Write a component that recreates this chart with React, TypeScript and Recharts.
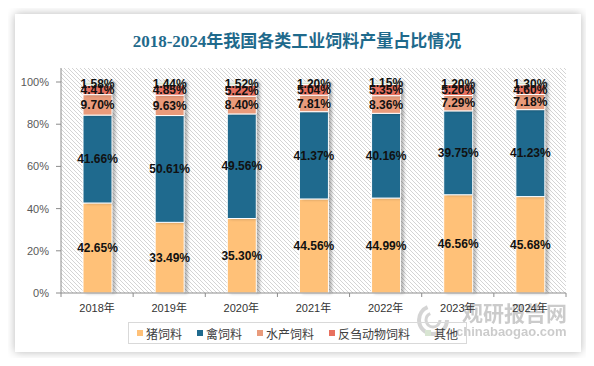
import React from 'react';
import { BarChart, Bar, XAxis, YAxis, CartesianGrid, LabelList } from 'recharts';

const categories = ['2018年', '2019年', '2020年', '2021年', '2022年', '2023年', '2024年'];
const pig = [42.65, 33.49, 35.3, 44.56, 44.99, 46.56, 45.68];
const poultry = [41.66, 50.61, 49.56, 41.37, 40.16, 39.75, 41.23];
const aquatic = [9.7, 9.63, 8.4, 7.81, 8.36, 7.29, 7.18];
const ruminant = [4.41, 4.85, 5.22, 5.04, 5.35, 5.2, 4.6];
const other = [1.58, 1.44, 1.52, 1.2, 1.15, 1.2, 1.3];
const yTicks = [0, 20, 40, 60, 80, 100];

const seriesNames = ['猪饲料', '禽饲料', '水产饲料', '反刍动物饲料', '其他'];
const seriesKeys = ['pig', 'poultry', 'aquatic', 'ruminant', 'other'];
const seriesColors = ['#FFC178', '#1F6A8E', '#E99B7B', '#E8705F', '#D8E5D2'];

const data = categories.map((c, i) => ({
  name: c,
  pig: pig[i],
  poultry: poultry[i],
  aquatic: aquatic[i],
  ruminant: ruminant[i],
  other: other[i],
}));

const W = 594;
const H = 366;
const MARGIN = { top: 68, right: 28, bottom: 43, left: 0 };
const Y_AXIS_W = 61;
const BAND = (W - MARGIN.left - MARGIN.right - Y_AXIS_W) / categories.length;

const XTick = (props: any) => {
  const { x, y, payload, index } = props;
  const half = BAND / 2;
  return (
    <g>
      {index === 0 && <line x1={x - half} x2={x - half} y1={y - 8} y2={y - 4} stroke="#8c8c8c" />}
      <line x1={x + half} x2={x + half} y1={y - 8} y2={y - 4} stroke="#8c8c8c" />
      <text x={x} y={y + 11} textAnchor="middle" fontSize={11} fill="#333" fontFamily="'Liberation Sans','Noto Sans CJK SC',sans-serif">
        {payload.value}
      </text>
    </g>
  );
};

const YTick = (props: any) => {
  const { x, y, payload } = props;
  return (
    <text x={x} y={y + 4} textAnchor="end" fontSize={11} fill="#595959" fontFamily="'Liberation Sans',sans-serif">
      {`${payload.value}%`}
    </text>
  );
};

const fmt = (v: any) => `${Number(v).toFixed(2)}%`;

const LegendBox = () => (
  <div
    style={{
      position: 'absolute',
      left: 128,
      top: 322,
      width: 339,
      border: '1px solid #d9d9d9',
      height: 22,
      boxSizing: 'border-box',
      display: 'flex',
      alignItems: 'center',
      justifyContent: 'center',
      fontFamily: "'Noto Sans CJK SC',sans-serif",
      fontSize: 12,
      color: '#404040',
      gap: 15,
      background: 'transparent',
    }}
  >
    {seriesNames.map((n, i) => (
      <div key={n} style={{ display: 'flex', alignItems: 'center', gap: 3 }}>
        <span style={{ width: 6, height: 6, background: seriesColors[i], display: 'inline-block' }} />
        <span>{n}</span>
      </div>
    ))}
  </div>
);

export default function App() {
  return (
    <div style={{ position: 'relative', width: W, height: H, margin: -8, background: '#fff', overflow: 'hidden' }}>
      <style>{`.recharts-bar-rectangles { filter: drop-shadow(3px 0px 1.5px rgba(0,0,0,0.28)); }`}</style>
      <div
        style={{
          position: 'absolute',
          left: 15,
          top: 14,
          width: 566,
          height: 338,
          background: '#fff',
          boxShadow: '0 0 9px rgba(0,0,0,0.28)',
        }}
      />
      <div
        style={{
          position: 'absolute',
          left: 0,
          top: 30,
          width: W,
          textAlign: 'center',
          fontFamily: "'Liberation Serif','Noto Sans CJK SC',serif",
          fontWeight: 'bold',
          fontSize: 17,
          color: '#1F6A8C',
          lineHeight: '24px',
        }}
      >
        2018-2024年我国各类工业饲料产量占比情况
      </div>
      {/* watermark */}
      <svg style={{ position: 'absolute', left: 0, top: 0 }} width={W} height={H}>
        <g opacity={0.5}>
          <circle cx={433} cy={320} r={14} fill="none" stroke="#aaa" strokeWidth={4} strokeDasharray="60 28" />
          <circle cx={433} cy={320} r={7} fill="none" stroke="#aaa" strokeWidth={3} strokeDasharray="30 14" />
          <text x={462} y={321} fontSize={21} fontWeight="bold" fill="#999" fontFamily="'Noto Sans CJK SC',sans-serif">
            观研报告网
          </text>
          <text x={456} y={336} fontSize={13} fontWeight="bold" fill="#999" fontFamily="'Liberation Sans',sans-serif">
            chinabaogao.com
          </text>
        </g>
      </svg>
      <LegendBox />
      <div style={{ position: 'absolute', left: 0, top: 0 }}>
        <BarChart width={W} height={H} data={data} margin={MARGIN} barSize={29}>
          <defs>
            <pattern id="hatch" patternUnits="userSpaceOnUse" width={4} height={4}>
              <path d="M-1,-1 L5,5 M-1,3 L1,5 M3,-1 L5,1" stroke="#d4d4d4" strokeWidth={1} />
            </pattern>
          </defs>
          <CartesianGrid horizontal={false} vertical={false} fill="url(#hatch)" />
          <XAxis
            dataKey="name"
            tick={<XTick />}
            tickLine={false}
            axisLine={{ stroke: '#8c8c8c' }}
            interval={0}
          />
          <YAxis
            width={Y_AXIS_W}
            domain={[0, 106.64]}
            ticks={yTicks}
            tickSize={5}
            tickMargin={7}
            tickLine={{ stroke: '#8c8c8c' }}
            axisLine={{ stroke: '#8c8c8c' }}
            tick={<YTick />}
          />
          {seriesKeys.map((k, i) => (
            <Bar
              key={k}
              dataKey={k}
              name={seriesNames[i]}
              stackId="a"
              fill={seriesColors[i]}
              stroke="#fff"
              strokeWidth={1}
              isAnimationActive={false}
            >
              <LabelList
                dataKey={k}
                position="center"
                formatter={fmt}
                fill="#111"
                fontSize={12}
                fontWeight="bold"
                fontFamily="'Liberation Sans Narrow','Liberation Sans',sans-serif"
              />
            </Bar>
          ))}
        </BarChart>
      </div>
    </div>
  );
}
